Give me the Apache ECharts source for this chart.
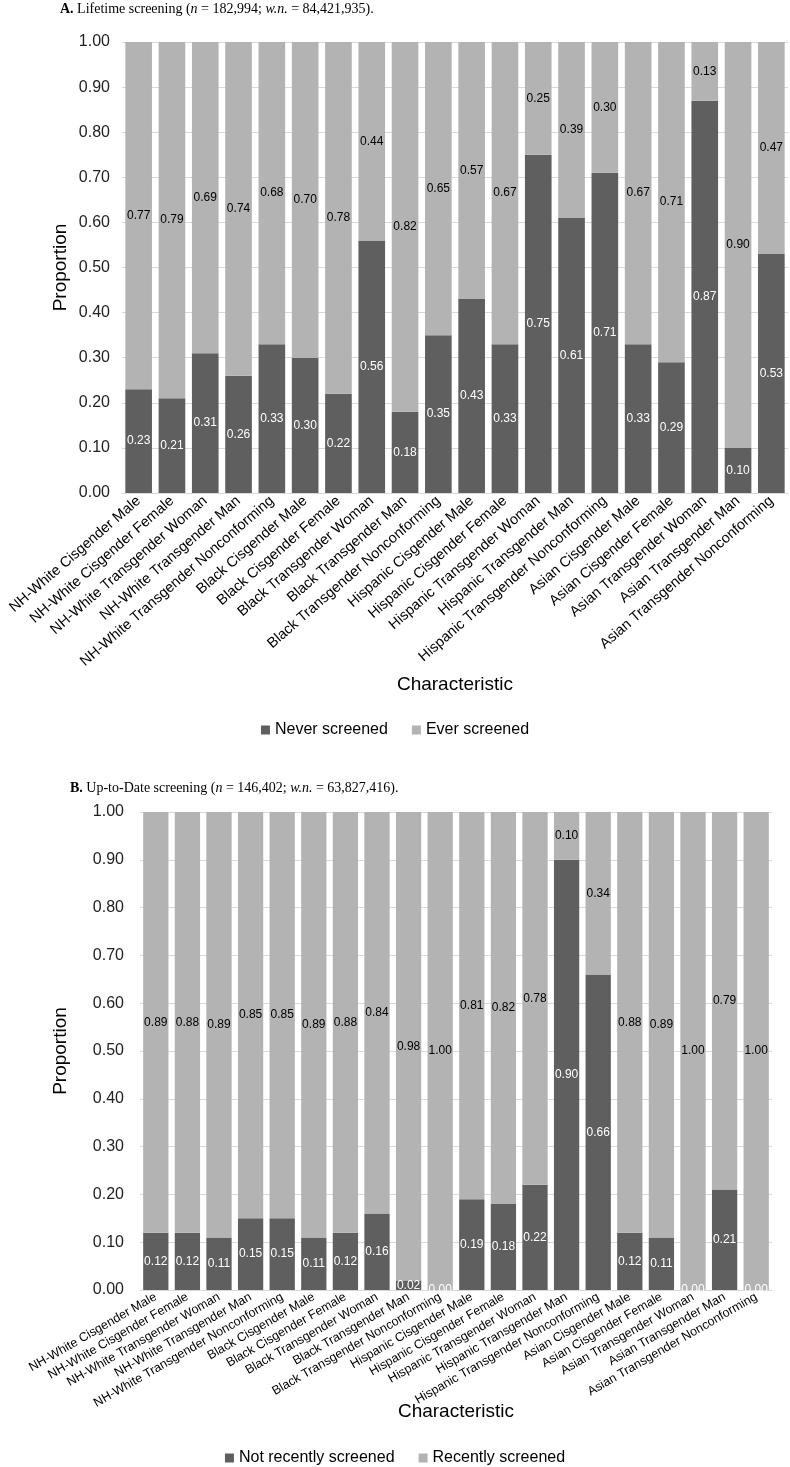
<!DOCTYPE html>
<html>
<head>
<meta charset="utf-8">
<script src="https://cdn.jsdelivr.net/npm/echarts@6/dist/echarts.min.js"></script>
<style>
html,body{margin:0;padding:0;background:#fff;}
#chart{width:790px;height:1467px;}
</style>
</head>
<body>
<div id="chart"></div>
<script>
const categories = [
  'NH-White Cisgender Male','NH-White Cisgender Female','NH-White Transgender Woman','NH-White Transgender Man','NH-White Transgender Nonconforming',
  'Black Cisgender Male','Black Cisgender Female','Black Transgender Woman','Black Transgender Man','Black Transgender Nonconforming',
  'Hispanic Cisgender Male','Hispanic Cisgender Female','Hispanic Transgender Woman','Hispanic Transgender Man','Hispanic Transgender Nonconforming',
  'Asian Cisgender Male','Asian Cisgender Female','Asian Transgender Woman','Asian Transgender Man','Asian Transgender Nonconforming'
];
const neverScreened = [0.23,0.21,0.31,0.26,0.33,0.30,0.22,0.56,0.18,0.35,0.43,0.33,0.75,0.61,0.71,0.33,0.29,0.87,0.10,0.53];
const everScreened  = [0.77,0.79,0.69,0.74,0.68,0.70,0.78,0.44,0.82,0.65,0.57,0.67,0.25,0.39,0.30,0.67,0.71,0.13,0.90,0.47];
const notRecentlyScreened = [0.12,0.12,0.11,0.15,0.15,0.11,0.12,0.16,0.02,0.00,0.19,0.18,0.22,0.90,0.66,0.12,0.11,0.00,0.21,0.00];
const recentlyScreened    = [0.89,0.88,0.89,0.85,0.85,0.89,0.88,0.84,0.98,1.00,0.81,0.82,0.78,0.10,0.34,0.88,0.89,1.00,0.79,1.00];
const seriesNamesA = ['Never screened','Ever screened'];
const seriesNamesB = ['Not recently screened','Recently screened'];
const titleA = '{b|A.} Lifetime screening ({i|n} = 182,994; {i|w.n.} = 84,421,935).';
const titleB = '{b|B.} Up-to-Date screening ({i|n} = 146,402; {i|w.n.} = 63,827,416).';
const yAxisName = 'Proportion';
const xAxisName = 'Characteristic';

const DARK = '#5f5f5f', LIGHT = '#b3b3b3', GRID = '#d9d9d9';
const SANS = 'Liberation Sans', SERIF = 'Liberation Serif';

const chart = echarts.init(document.getElementById('chart'), null, {renderer:'canvas'});

function titleStyle(){
  return {fontFamily:SERIF, fontSize:14, color:'#000', fontWeight:'normal',
    rich:{b:{fontFamily:SERIF,fontSize:14,fontWeight:'bold',color:'#000'},
          i:{fontFamily:SERIF,fontSize:14,fontStyle:'italic',color:'#000'}}};
}
function xAxis(gridIndex, gap, rotate, fs){
  return {type:'category', gridIndex, data:categories,
    axisLine:{show:true, lineStyle:{color:GRID}}, axisTick:{show:false},
    axisLabel:{rotate, interval:0, fontFamily:SANS, fontSize:fs, color:'#000', margin:6},
    name:xAxisName, nameLocation:'middle', nameGap:gap, nameMoveOverlap:false,
    nameTextStyle:{fontFamily:SANS, fontSize:19, color:'#000'}};
}
function yAxis(gridIndex, gap, margin){
  return {type:'value', gridIndex, min:0, max:1, interval:0.1,
    axisLine:{show:false}, axisTick:{show:false},
    axisLabel:{formatter:v=>v.toFixed(2), fontFamily:SANS, fontSize:16, color:'#222', margin},
    splitLine:{lineStyle:{color:GRID, width:1}},
    name:yAxisName, nameLocation:'middle', nameGap:gap, nameRotate:90, nameMoveOverlap:false,
    nameTextStyle:{fontFamily:SANS, fontSize:19, color:'#000'}};
}
function bar(name, data, idx, stack, color, labelColor){
  return {type:'bar', name, data, xAxisIndex:idx, yAxisIndex:idx, stack,
    barCategoryGap:'20%', itemStyle:{color},
    label:{show:true, position:'inside', formatter:p=>Number(p.value).toFixed(2),
      fontFamily:SANS, fontSize:12, color:labelColor}};
}

chart.setOption({
  animation:false,
  backgroundColor:'#fff',
  title:[
    {text:titleA, left:60, top:2, padding:0, textStyle:titleStyle()},
    {text:titleB, left:70, top:781, padding:0, textStyle:titleStyle()}
  ],
  legend:[
    {data:seriesNamesA, top:717, left:'center', icon:'rect', itemWidth:9, itemHeight:9, itemGap:24,
      textStyle:{fontFamily:SANS, fontSize:16, color:'#000'}},
    {data:seriesNamesB, top:1445, left:'center', icon:'rect', itemWidth:9, itemHeight:9, itemGap:24,
      textStyle:{fontFamily:SANS, fontSize:16, color:'#000'}}
  ],
  grid:[
    {left:122, top:42, width:666, height:451, containLabel:false},
    {left:140, top:812, width:632, height:478, containLabel:false}
  ],
  xAxis:[xAxis(0,182,41,14.5), xAxis(1,112,30,12.5)],
  yAxis:[yAxis(0,52,12), yAxis(1,70,16)],
  series:[
    bar(seriesNamesA[0], neverScreened, 0, 'a', DARK, '#fff'),
    bar(seriesNamesA[1], everScreened, 0, 'a', LIGHT, '#000'),
    bar(seriesNamesB[0], notRecentlyScreened, 1, 'b', DARK, '#fff'),
    bar(seriesNamesB[1], recentlyScreened, 1, 'b', LIGHT, '#000')
  ]
});
</script>
</body>
</html>
